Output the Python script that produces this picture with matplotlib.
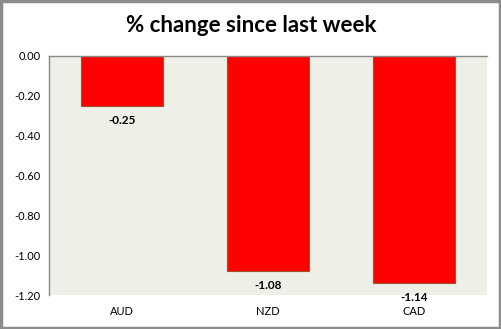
import matplotlib
matplotlib.use('Agg')
import matplotlib.pyplot as plt
from matplotlib.patches import Rectangle

currencies = ["AUD", "NZD", "CAD"]
changes = [-0.25, -1.08, -1.14]
yticks = [0.0, -0.2, -0.4, -0.6, -0.8, -1.0, -1.2]

plt.rcParams['font.family'] = ['Lato', 'DejaVu Sans']

fig = plt.figure(figsize=(5.02, 3.29), dpi=100)
ax = fig.add_axes([49 / 502, 34 / 329, 438 / 502, 239 / 329])
ax.set_facecolor("#eef0e8")

x = range(len(currencies))
bars = ax.bar(x, changes, width=0.56, color="#ff0000", edgecolor="#a0522d", linewidth=0.8)

ax.set_ylim(-1.2, 0)
ax.set_xlim(-0.5, len(currencies) - 0.5)
ax.set_yticks(yticks)
ax.set_yticklabels([f"{v:.2f}" for v in yticks], fontsize=8)
ax.set_xticks(list(x))
ax.set_xticklabels(currencies, fontsize=8)
ax.tick_params(axis='both', length=0, pad=6)
ax.tick_params(axis='x', pad=8)

for side in ["right", "bottom"]:
    ax.spines[side].set_visible(False)
for side in ["left", "top"]:
    ax.spines[side].set_color("#888888")
    ax.spines[side].set_linewidth(1)

for b, v in zip(bars, changes):
    ax.annotate(f"{v:.2f}", (b.get_x() + b.get_width() / 2, v), xytext=(0, -10.5),
                textcoords="offset points", ha="center", va="center",
                fontsize=8.5, fontweight="bold", annotation_clip=False)

fig.text(0.5, 0.922, "% change since last week", ha="center", va="center",
         fontsize=16, fontweight="bold")

fig.patches.append(Rectangle((0.002, 0.003), 0.995, 0.994, transform=fig.transFigure,
                             fill=False, edgecolor="#8c8c8c", linewidth=2.5))

fig.savefig("out.png", dpi=100)
